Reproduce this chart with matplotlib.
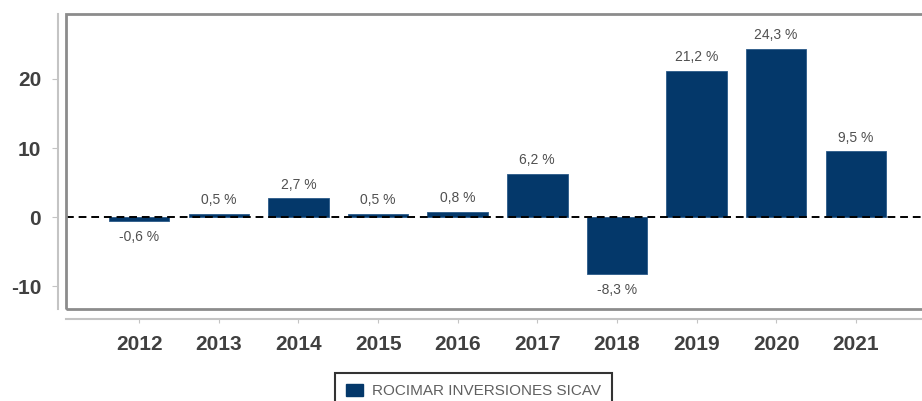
import matplotlib
matplotlib.use("Agg")
import matplotlib.pyplot as plt
from matplotlib.patches import Rectangle, Patch

years = ["2012", "2013", "2014", "2015", "2016", "2017", "2018", "2019", "2020", "2021"]
returns = [-0.6, 0.5, 2.7, 0.5, 0.8, 6.2, -8.3, 21.2, 24.3, 9.5]
yticks = [-10, 0, 10, 20]
series_name = "ROCIMAR INVERSIONES SICAV"

plt.rcParams['font.family'] = ['Liberation Sans', 'DejaVu Sans']
plt.rcParams['axes.unicode_minus'] = False

W, H = 922, 401
fig = plt.figure(figsize=(W / 100, H / 100), dpi=100)
left, right, top, bottom = 66, 929, 14, 309
ax = fig.add_axes([left / W, 1 - bottom / H, (right - left) / W, (bottom - top) / H])

bar_color = "#04386A"
x = list(range(len(years)))
ax.bar(x, returns, width=0.76, color=bar_color, edgecolor="#2a5a88", linewidth=0.6, zorder=2)
ax.axhline(0, color="black", linestyle=(0, (4, 2.5)), linewidth=1.4, zorder=4)

for xi, v in zip(x, returns):
    label = f"{v:.1f}".replace(".", ",") + " %"
    if v >= 0:
        ax.annotate(label, (xi, v), xytext=(0, 5), textcoords="offset points",
                    ha="center", va="bottom", fontsize=10, color="#505050")
    else:
        ax.annotate(label, (xi, v), xytext=(0, -6), textcoords="offset points",
                    ha="center", va="top", fontsize=10, color="#505050")

ax.set_xlim(-0.92, 9.92)
ax.set_ylim(-13.3, 29.4)
ax.set_xticks(x)
ax.set_xticklabels(years)
ax.set_yticks(yticks)

for s in ["top", "right"]:
    ax.spines[s].set_visible(False)
ax.spines["left"].set_position(("outward", 6))
ax.spines["bottom"].set_position(("outward", 7))
ax.spines["left"].set_color("#c4c4c4")
ax.spines["bottom"].set_color("#c4c4c4")
ax.spines["left"].set_linewidth(1.5)
ax.spines["bottom"].set_linewidth(1.5)

ax.add_patch(Rectangle((0, 0), 1, 1, transform=ax.transAxes, fill=False,
                       edgecolor="#8c8c8c", linewidth=2, clip_on=False, zorder=5))

ax.tick_params(axis="x", length=3, color="#c4c4c4", pad=9, labelsize=15, labelcolor="#404040")
ax.tick_params(axis="y", length=4, color="#c4c4c4", pad=8, labelsize=15, labelcolor="#404040")
for lab in ax.get_xticklabels() + ax.get_yticklabels():
    lab.set_fontweight("bold")

handle = Patch(facecolor=bar_color, edgecolor=bar_color)
leg = fig.legend([handle], [series_name], loc="upper center",
                 bbox_to_anchor=(473.5 / W, 1 - 373 / H), frameon=True, fancybox=False,
                 edgecolor="black", fontsize=11, handlelength=1.1, handleheight=0.9,
                 handletextpad=0.6, borderpad=0.7, borderaxespad=0)
leg.get_frame().set_linewidth(1.5)
for t in leg.get_texts():
    t.set_color("#606060")

fig.savefig("out.png", dpi=100)
